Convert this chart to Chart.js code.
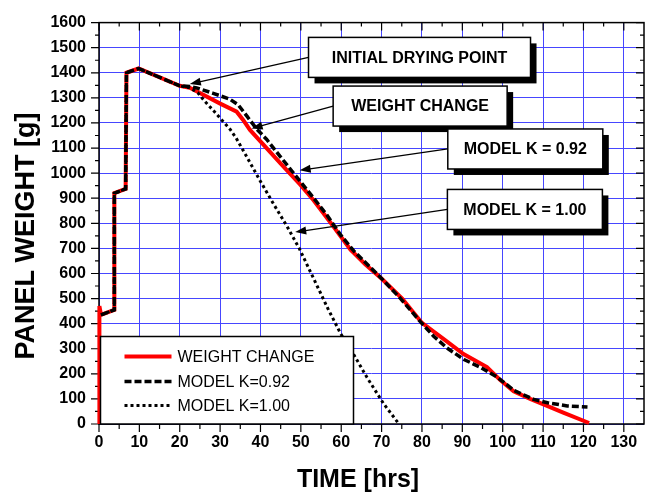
<!DOCTYPE html>
<html><head><meta charset="utf-8">
<script src="https://cdn.jsdelivr.net/npm/chart.js@4/dist/chart.umd.min.js"></script>
<style>html,body{margin:0;padding:0;background:#fff;}canvas{display:block;}</style>
</head><body>
<canvas id="c" width="649" height="492"></canvas>
<script>
// ---- data ----
const xTicks = [0,10,20,30,40,50,60,70,80,90,100,110,120,130];
const yTicks = [0,100,200,300,400,500,600,700,800,900,1000,1100,1200,1300,1400,1500,1600];
const seriesLabels = ['WEIGHT CHANGE','MODEL K=0.92','MODEL K=1.00'];

const weightTime   = [0.1,0.1,0.5,3.8,3.8,6.6,6.8,9.8,20,22.5,23.7,29.9,34.1,35.7,37.4,44.9,49.8,53.1,57.8,62.3,66,70.1,75.1,80,85.4,90.3,96.1,99.4,102.7,106.8,110.1,115,121.4];
const weightValues = [0,470,435,455,920,937,1400,1417,1348,1340,1330,1278,1245,1212,1172,1040,955,893,793,695,636,578,500,403,338,279,227,175,130,100,78,45,4];

const k092Time   = [0.5,3.8,3.8,6.6,6.8,9.8,20,22.5,24.2,28.3,32.4,34.5,36.6,39.1,41.5,44.9,49.2,53.1,56.5,59.8,63.1,69.7,74.7,79.6,82.9,86.2,90.4,94.5,98.7,102.8,107.7,111.1,116,121];
const k092Values = [435,455,920,937,1400,1417,1348,1345,1340,1318,1295,1272,1228,1175,1135,1066,980,902,832,755,690,585,500,408,350,303,257,226,186,134,98,85,72,68];

const k100Time   = [0.5,3.8,3.8,6.6,6.8,9.8,20,22.5,24.5,26,28.3,30.4,32.5,34,36.6,39.9,43.2,46.5,49.6,53.1,56.7,59.8,63.1,66.4,70.5,74.3];
const k100Values = [435,455,920,937,1400,1417,1348,1340,1320,1290,1250,1212,1174,1139,1065,970,878,790,700,582,460,362,277,185,81,0];

// annotation callouts: label text and the data point each arrow points at
const noteLabels = ['INITIAL DRYING POINT','WEIGHT CHANGE','MODEL K = 0.92','MODEL K = 1.00'];
const noteTipX   = [22.5, 37.8, 49.7, 48.6];
const noteTipY   = [1355, 1178, 1011, 765];

// ---- layout / style (not data) ----
const noteBoxes = [ // top-left in data units, size in px
  {x:51.9, y:1541, w:222, h:40},
  {x:58.0, y:1347, w:174, h:40},
  {x:86.4, y:1176, w:155, h:40},
  {x:86.3, y:935,  w:155, h:40}
];
const FONT = "'Liberation Sans', Arial, sans-serif";
const GRID = 'rgb(70,70,255)';

function pts(xs, ys){ return xs.map((v,i)=>({x:v, y:ys[i]})); }
const mids = a => a.slice(0,-1).map((v,i)=>(v+a[i+1])/2);

const decor = {
  id:'decor',
  beforeDatasetsDraw(chart){
    const {ctx, chartArea:ca, scales:{x,y}} = chart;
    ctx.save();
    ctx.strokeStyle='#000'; ctx.lineWidth=1.5;
    ctx.strokeRect(ca.left, ca.top, ca.right-ca.left, ca.bottom-ca.top);
    ctx.lineWidth=1.2; ctx.beginPath();
    xTicks.forEach(v=>{const p=x.getPixelForValue(v);
      ctx.moveTo(p,ca.bottom);ctx.lineTo(p,ca.bottom+8);
      ctx.moveTo(p,ca.top);ctx.lineTo(p,ca.top+8);});
    mids(xTicks).forEach(v=>{const p=x.getPixelForValue(v);
      ctx.moveTo(p,ca.bottom);ctx.lineTo(p,ca.bottom+5);
      ctx.moveTo(p,ca.top);ctx.lineTo(p,ca.top+4);});
    yTicks.forEach(v=>{const p=y.getPixelForValue(v);
      ctx.moveTo(ca.left,p);ctx.lineTo(ca.left-8,p);
      ctx.moveTo(ca.right,p);ctx.lineTo(ca.right-8,p);});
    mids(yTicks).forEach(v=>{const p=y.getPixelForValue(v);
      ctx.moveTo(ca.left,p);ctx.lineTo(ca.left-4,p);
      ctx.moveTo(ca.right,p);ctx.lineTo(ca.right-4,p);});
    ctx.stroke();
    ctx.restore();
  },
  afterDraw(chart){
    const {ctx, chartArea:ca, scales:{x,y}} = chart;
    ctx.save();
    // legend box
    const lx=ca.left+1.5, lw=253, lh=87.5, ly=ca.bottom-lh;
    ctx.fillStyle='#fff'; ctx.fillRect(lx,ly,lw,lh);
    ctx.strokeStyle='#000'; ctx.lineWidth=1.5; ctx.strokeRect(lx,ly,lw,lh);
    const rows=[20,45,69];
    chart.data.datasets.forEach((ds,i)=>{
      const ry=ly+rows[i];
      ctx.save();
      ctx.strokeStyle=ds.borderColor; ctx.lineWidth=ds.borderWidth;
      ctx.setLineDash(ds.borderDash||[]); ctx.lineCap='butt';
      ctx.beginPath(); ctx.moveTo(lx+24,ry); ctx.lineTo(lx+71,ry); ctx.stroke();
      ctx.restore();
      ctx.fillStyle='#000'; ctx.font='16px '+FONT; ctx.textBaseline='middle'; ctx.textAlign='left';
      ctx.fillText(ds.label, lx+77, ry+1);
    });

    // callouts
    noteLabels.forEach((t,i)=>{
      const b=noteBoxes[i];
      const bx=x.getPixelForValue(b.x), by=y.getPixelForValue(b.y);
      const tx=x.getPixelForValue(noteTipX[i]), ty=y.getPixelForValue(noteTipY[i]);
      const sx=bx, sy=by+b.h/2;
      ctx.strokeStyle='#000'; ctx.lineWidth=1.3; ctx.setLineDash([]);
      const ang=Math.atan2(ty-sy, tx-sx);
      const hl=11, hw=4;
      ctx.beginPath(); ctx.moveTo(sx,sy); ctx.lineTo(tx-Math.cos(ang)*hl*0.8, ty-Math.sin(ang)*hl*0.8); ctx.stroke();
      ctx.fillStyle='#000'; ctx.beginPath();
      ctx.moveTo(tx,ty);
      ctx.lineTo(tx-Math.cos(ang)*hl-Math.sin(ang)*hw, ty-Math.sin(ang)*hl+Math.cos(ang)*hw);
      ctx.lineTo(tx-Math.cos(ang)*hl+Math.sin(ang)*hw, ty-Math.sin(ang)*hl-Math.cos(ang)*hw);
      ctx.closePath(); ctx.fill();
      ctx.fillStyle='#000'; ctx.fillRect(bx+6, by+6, b.w, b.h);
      ctx.fillStyle='#fff'; ctx.fillRect(bx, by, b.w, b.h);
      ctx.strokeStyle='#000'; ctx.lineWidth=1.5; ctx.strokeRect(bx, by, b.w, b.h);
      ctx.fillStyle='#000'; ctx.font='bold 16px '+FONT; ctx.textAlign='center'; ctx.textBaseline='middle';
      ctx.fillText(t, bx+b.w/2, by+b.h/2+1);
    });

    // axis titles
    ctx.fillStyle='#000'; ctx.textAlign='center'; ctx.textBaseline='alphabetic';
    ctx.font='bold 25px '+FONT;
    ctx.fillText('TIME [hrs]', 358, 486.5);
    ctx.save();
    ctx.translate(33.5, 236); ctx.rotate(-Math.PI/2);
    ctx.font='bold 27px '+FONT;
    ctx.fillText('PANEL WEIGHT [g]', 0, 0);
    ctx.restore();
    ctx.restore();
  }
};

const tickFont = {family:FONT, size:16, weight:'bold'};

new Chart(document.getElementById('c'), {
  type:'line',
  data:{datasets:[
    {label:seriesLabels[0], data:pts(weightTime,weightValues), borderColor:'#ff0000', borderWidth:4, order:3, clip:false},
    {label:seriesLabels[1], data:pts(k092Time,k092Values), borderColor:'#000', borderWidth:3.5, borderDash:[7,3], order:1},
    {label:seriesLabels[2], data:pts(k100Time,k100Values), borderColor:'#000', borderWidth:3, borderDash:[3,3], order:2}
  ]},
  options:{
    responsive:false, animation:false, devicePixelRatio:1,
    elements:{point:{radius:0}, line:{tension:0, fill:false, borderCapStyle:'butt'}},
    layout:{padding:{left:0, right:5, top:16, bottom:0}},
    plugins:{legend:{display:false}, tooltip:{enabled:false}, title:{display:false}},
    scales:{
      x:{type:'linear', min:0, max:135,
        afterBuildTicks:s=>{s.ticks=xTicks.map(v=>({value:v}));},
        afterFit:s=>{s.height=68;},
        grid:{color:GRID, lineWidth:1, drawTicks:false},
        border:{display:false},
        ticks:{font:tickFont, color:'#000', padding:9, maxRotation:0, autoSkip:false, callback:v=>String(v)}
      },
      y:{type:'linear', min:0, max:1600,
        afterBuildTicks:s=>{s.ticks=yTicks.map(v=>({value:v}));},
        afterFit:s=>{s.width=99;},
        grid:{color:GRID, lineWidth:1, drawTicks:false},
        border:{display:false},
        ticks:{font:tickFont, color:'#000', padding:13, autoSkip:false, callback:v=>String(v)}
      }
    }
  },
  plugins:[decor]
});
</script>
</body></html>
